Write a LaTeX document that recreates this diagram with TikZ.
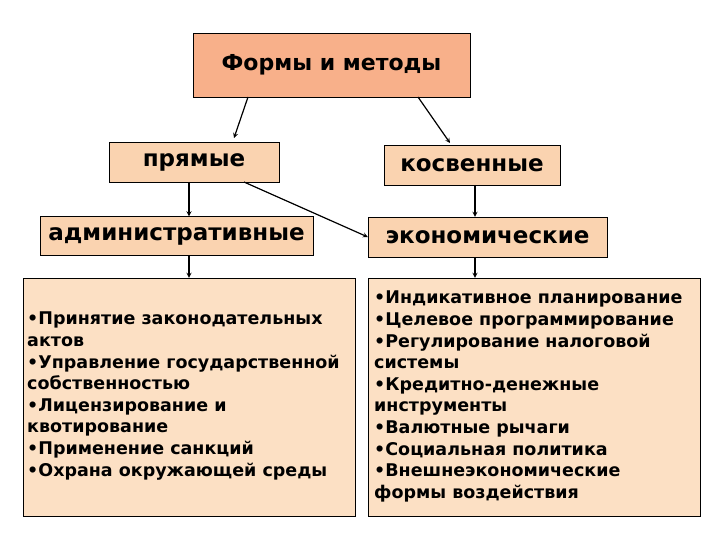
\documentclass[tikz,border=0pt]{standalone}
\usepackage{fontspec}
\setmainfont{DejaVu Sans}
\definecolor{topc}{HTML}{F8B08A}
\definecolor{boxc}{HTML}{FAD3B0}
\definecolor{listc}{HTML}{FCE0C4}
\begin{document}
\begin{tikzpicture}[x=1pt,y=-1pt,
  bx/.style={draw=black,fill=boxc,inner sep=0pt,font=\bfseries\fontsize{23}{27}\selectfont},
  lst/.style={draw=black,fill=listc,inner sep=0pt},
  arr/.style={-stealth,line width=1.2pt},
  ltx/.style={anchor=north west,align=left,inner sep=0pt,font=\bfseries\fontsize{17.5}{21.6}\selectfont}]
\useasboundingbox (0,0) rectangle (720,540);
\node[bx,fill=topc,minimum width=277,minimum height=64,font=\bfseries\fontsize{22}{26}\selectfont] (top) at (331.5,65) {Формы и методы};
\node[bx,minimum width=170,minimum height=40] (pr) at (194,162) {прямые};
\node[bx,minimum width=176,minimum height=40] (ko) at (472,165) {косвенные};
\node[bx,minimum width=273,minimum height=39] (ad) at (176.5,236) {административные};
\node[bx,minimum width=239,minimum height=40] (ek) at (487.5,237) {экономические};
\node[lst,minimum width=332,minimum height=238] (la) at (189,397) {};
\node[lst,minimum width=332,minimum height=238] (le) at (534,397) {};
\node[ltx] (lat) at (27,312) {•Принятие законодательных\\актов\\•Управление государственной\\собственностью\\•Лицензирование и\\квотирование\\•Применение санкций\\•Охрана окружающей среды};
\node[ltx] (let) at (374,291) {•Индикативное планирование\\•Целевое программирование\\•Регулирование налоговой\\системы\\•Кредитно-денежные\\инструменты\\•Валютные рычаги\\•Социальная политика\\•Внешнеэкономические\\формы воздействия};
\coordinate (t1) at (248,97); \coordinate (t2) at (418,97);
\draw[arr] (t1) -- (234,138);
\draw[arr] (t2) -- (450,143);
\draw[arr] (189,182) -- (ad.north -| 189,0);
\draw[arr] (475,185) -- (ek.north -| 475,0);
\draw[arr] (244,182) -- (ek.west);
\draw[arr] (189,256) -- (la.north -| 189,0);
\draw[arr] (475,257) -- (le.north -| 475,0);
\end{tikzpicture}
\end{document}
